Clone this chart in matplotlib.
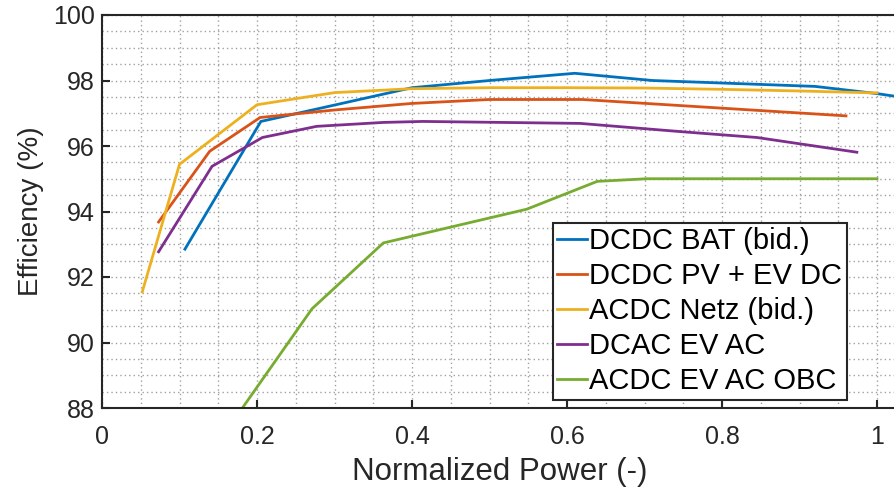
import matplotlib
matplotlib.use("Agg")
import matplotlib.pyplot as plt
from matplotlib.ticker import MultipleLocator

plt.rcParams['font.family'] = ['Liberation Sans', 'DejaVu Sans']

# Data
bat_x = [0.107, 0.205, 0.30, 0.40, 0.50, 0.61, 0.71, 0.92, 1.00, 1.10]
bat_y = [92.85, 96.75, 97.25, 97.78, 98.00, 98.22, 98.00, 97.82, 97.60, 97.25]

pv_x = [0.073, 0.139, 0.204, 0.30, 0.40, 0.50, 0.62, 0.96]
pv_y = [93.68, 95.84, 96.87, 97.10, 97.30, 97.42, 97.42, 96.92]

netz_x = [0.052, 0.10, 0.20, 0.30, 0.40, 0.50, 0.60, 0.70, 0.80, 0.90, 1.00]
netz_y = [91.55, 95.44, 97.26, 97.63, 97.75, 97.78, 97.78, 97.77, 97.73, 97.68, 97.62]

dcac_x = [0.073, 0.142, 0.207, 0.277, 0.363, 0.414, 0.617, 0.746, 0.845, 0.974]
dcac_y = [92.77, 95.38, 96.26, 96.60, 96.72, 96.75, 96.69, 96.44, 96.26, 95.81]

obc_x = [0.15, 0.271, 0.363, 0.548, 0.639, 0.703, 0.80, 0.90, 1.00]
obc_y = [86.95, 91.03, 93.04, 94.07, 94.92, 95.00, 95.00, 95.00, 95.00]

labels = ["DCDC BAT (bid.)", "DCDC PV + EV DC", "ACDC Netz (bid.)",
          "DCAC EV AC", "ACDC EV AC OBC"]
colors = ["#0072BD", "#D95319", "#EDB120", "#7E2F8E", "#77AC30"]

xticks = [0, 0.2, 0.4, 0.6, 0.8, 1.0]
xticklabels = ["0", "0.2", "0.4", "0.6", "0.8", "1"]
yticks = [88, 90, 92, 94, 96, 98, 100]

W, H = 895, 493
fig = plt.figure(figsize=(W / 100, H / 100), dpi=100)
x0, x1 = 102, 102 + 1.1 * 775
y_top, y_bot = 15, 408
ax = fig.add_axes([x0 / W, (H - y_bot) / H, (x1 - x0) / W, (y_bot - y_top) / H])

series = [(bat_x, bat_y), (pv_x, pv_y), (netz_x, netz_y), (dcac_x, dcac_y), (obc_x, obc_y)]
for (xs, ys), lab, c in zip(series, labels, colors):
    ax.plot(xs, ys, color=c, lw=2.0, label=lab, solid_joinstyle='miter')

ax.set_xlim(0, 1.1)
ax.set_ylim(88, 100)
ax.set_xticks(xticks)
ax.set_xticklabels(xticklabels)
ax.set_yticks(yticks)
ax.xaxis.set_minor_locator(MultipleLocator(0.05))
ax.yaxis.set_minor_locator(MultipleLocator(0.5))

ax.grid(which='both', color='#a0a0a0', linestyle=(0, (1, 2.2)), linewidth=1.0)
ax.set_axisbelow(True)

ax.tick_params(which='major', direction='in', length=6, width=1.5, colors='#262626',
               labelsize=18, top=False, right=False)
ax.tick_params(axis='x', which='major', pad=12)
ax.tick_params(axis='y', which='major', pad=5)
ax.tick_params(which='minor', length=0)
for s in ax.spines.values():
    s.set_color('#262626')
    s.set_linewidth(1.5)

ax.set_xlabel("Normalized Power (-)", fontsize=22.5, color='#262626')
ax.set_ylabel("Efficiency (%)", fontsize=20, color='#262626')
ax.xaxis.set_label_coords((500 - x0) / (x1 - x0), -0.125)
ax.yaxis.set_label_coords(-0.068, 0.5)

leg = ax.legend(loc='upper left', bbox_to_anchor=(553 / W, (H - 223) / H),
                bbox_transform=fig.transFigure, fontsize=21, frameon=True,
                fancybox=False, framealpha=1, edgecolor='#262626', borderaxespad=0,
                handlelength=1.0, handletextpad=0.1, labelspacing=0.24,
                borderpad=0.15)
leg.get_frame().set_linewidth(1.5)

fig.savefig("out.png", dpi=100)
